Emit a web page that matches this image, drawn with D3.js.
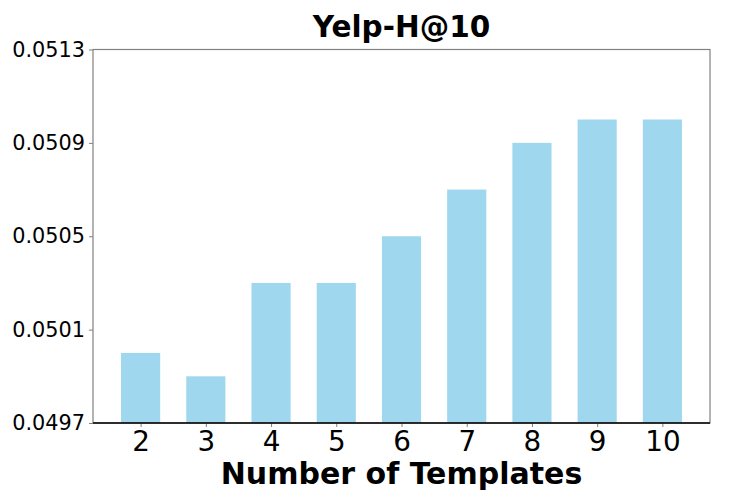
<!DOCTYPE html>
<html>
<head>
<meta charset="utf-8">
<script src="https://cdn.jsdelivr.net/npm/d3@7"></script>
<style>
  body { margin: 0; background: #fff; }
  svg { display: block; font-family: "DejaVu Sans", sans-serif; }
</style>
</head>
<body>
<div id="chart"></div>
<script>
// number of templates on the x axis
const templates = ["2", "3", "4", "5", "6", "7", "8", "9", "10"];
// H@10 on Yelp for each template count
const hitValues = [0.0500, 0.0499, 0.0503, 0.0503, 0.0505, 0.0507, 0.0509, 0.0510, 0.0510];
const yTicks = [0.0497, 0.0501, 0.0505, 0.0509, 0.0513];

let margin = {top: 49.5, right: 37, bottom: 75, left: 93};
let width = 747 - margin.left - margin.right,
    height = 498 - margin.top - margin.bottom;

let svg = d3.select("#chart").append("svg")
    .attr("width", 747)
    .attr("height", 498);

let g = svg.append("g")
    .attr("transform", `translate(${margin.left}, ${margin.top})`);

// bars sit at 0..8 with width 0.6, plus the usual 5% side margin
let xScale = d3.scaleLinear().domain([-0.73, 8.73]).range([0, width]);
let yScale = d3.scaleLinear().domain([0.0497, 0.0513]).range([height, 0]);
let barW = xScale(0.6) - xScale(0);

g.selectAll(".bar")
    .data(hitValues)
    .enter().append("rect")
    .attr("class", "bar")
    .attr("x", (d, i) => xScale(i - 0.3))
    .attr("y", d => yScale(d))
    .attr("width", barW)
    .attr("height", d => height - yScale(d))
    .attr("fill", "#9fd7ee");

// frame
g.append("rect")
    .attr("width", width).attr("height", height)
    .attr("fill", "none").attr("stroke", "#808080").attr("stroke-width", 1.2);

let yAxis = d3.axisLeft(yScale)
    .tickValues(yTicks)
    .tickFormat(d3.format(".4f"))
    .tickSize(4).tickPadding(4);

let yG = g.append("g").call(yAxis)
    .attr("font-family", "DejaVu Sans").attr("font-size", null);
yG.select(".domain").remove();
yG.selectAll(".tick line").attr("stroke", "#808080");
yG.selectAll(".tick text").style("font-size", "20.8px").attr("fill", "#000");

let xAxis = d3.axisBottom(xScale)
    .tickValues(d3.range(templates.length))
    .tickFormat(i => templates[i])
    .tickSize(4).tickPadding(4);

let xG = g.append("g")
    .attr("transform", `translate(0, ${height})`)
    .call(xAxis)
    .attr("font-family", "DejaVu Sans").attr("font-size", null);
xG.select(".domain").remove();
xG.selectAll(".tick line").attr("stroke", "#808080");
xG.selectAll(".tick text").style("font-size", "27.8px").attr("fill", "#000");

// bottom spine is black
g.append("line")
    .attr("x1", 0).attr("x2", width)
    .attr("y1", height).attr("y2", height)
    .attr("stroke", "#000").attr("stroke-width", 1.5);

svg.append("text")
    .attr("x", margin.left + width / 2)
    .attr("y", 36.5)
    .attr("text-anchor", "middle")
    .style("font-size", "29.5px")
    .style("font-weight", "bold")
    .text("Yelp-H@10");

svg.append("text")
    .attr("x", margin.left + width / 2)
    .attr("y", 484)
    .attr("text-anchor", "middle")
    .style("font-size", "30px")
    .style("font-weight", "bold")
    .text("Number of Templates");
</script>
</body>
</html>
